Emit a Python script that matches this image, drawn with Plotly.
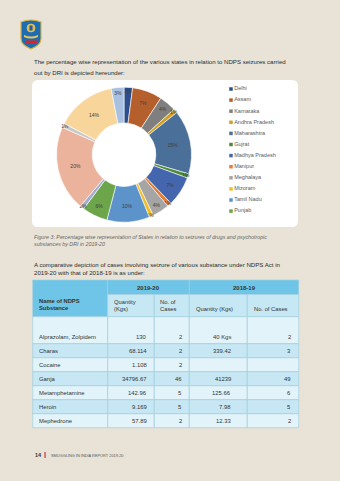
import plotly.graph_objects as go

W, H = 340, 481

# ---------------- data ----------------
states = ["Delhi", "Assam", "Karnataka", "Andhra Pradesh", "Maharashtra", "Gujrat",
          "Madhya Pradesh", "Manipur", "Meghalaya", "Mizoram", "Tamil Nadu", "Punjab",
          "State 13", "State 14", "State 15", "State 16", "State 17"]
state_share = [2, 7, 4, 1, 15, 1, 7, 1, 4, 1, 10, 6, 1, 20, 1, 14, 3]
state_colors = ["#2C4E8E", "#B55F2C", "#7F7F7F", "#CFA024", "#4A6F98", "#4C8A3A",
                "#4466AE", "#E67C36", "#A5A5A5", "#F4BD26", "#5B93CA", "#6DA54A",
                "#A3AECF", "#EBB39C", "#C8C8C8", "#F8D69B", "#A9C1E0"]
legend_n = 12  # legend in the reference lists the first 12 states

substances = ["Alprazolam, Zolpidem", "Charas", "Cocaine", "Ganja",
              "Metamphetamine", "Heroin", "Mephedrone"]
qty_2019_20 = ["130", "68.114", "1.108", "34796.67", "142.96", "9.169", "57.89"]
cases_2019_20 = ["2", "2", "2", "46", "5", "5", "2"]
qty_2018_19 = ["40 Kgs", "339.42", "", "41239", "125.66", "7.98", "12.33"]
cases_2018_19 = ["2", "3", "", "49", "6", "5", "2"]
year_heads = ["2019-20", "2018-19"]

para1 = ["The percentage wise representation of the various states in relation to NDPS seizures carried",
         "out by DRI is depicted hereunder:"]
caption = ["Figure 3: Percentage wise representation of States in relation to seizures of drugs and psychotropic",
           "substances by DRI in 2019-20"]
para2 = ["A comparative depiction of cases involving seizure of various substance under NDPS Act in",
         "2019-20 with that of 2018-19 is as under:"]
footer_page = "14"
footer_text = "SMUGGLING IN INDIA REPORT 2019-20"

FONT = "Liberation Sans, Arial, sans-serif"
TXT = "#333333"

fig = go.Figure()

# ---------------- donut ----------------
cx0, cx1, cy0, cy1 = 56.5, 191.5, 86.7, 222.7
fig.add_trace(go.Pie(
    labels=states, values=state_share, sort=False, direction="clockwise", rotation=0,
    hole=0.47,
    marker=dict(colors=state_colors, line=dict(color="white", width=0.6)),
    texttemplate="%{value}%", textposition="inside", insidetextorientation="horizontal",
    textfont=dict(size=5, color="#404040", family=FONT),
    domain=dict(x=[cx0 / W, cx1 / W], y=[1 - cy1 / H, 1 - cy0 / H]),
    showlegend=False, hoverinfo="label+percent",
))

# ---------------- legend (first 12) ----------------
fig.add_trace(go.Scatter(
    x=[231] * legend_n, y=[89 + 11.1 * i for i in range(legend_n)],
    mode="markers+text", text=states[:legend_n], textposition="middle right",
    marker=dict(symbol="square", size=3.5, color=state_colors[:legend_n]),
    textfont=dict(size=5.5, color="#595959", family=FONT),
    showlegend=False, hoverinfo="skip",
))

shapes = []
ann = []

# white panel
r = 6
px0, px1, py0, py1 = 32, 298, 80, 227
shapes.append(dict(type="path", xref="x", yref="y", layer="below",
                   path=f"M{px0+r},{py0} L{px1-r},{py0} Q{px1},{py0} {px1},{py0+r} L{px1},{py1-r} "
                        f"Q{px1},{py1} {px1-r},{py1} L{px0+r},{py1} Q{px0},{py1} {px0},{py1-r} "
                        f"L{px0},{py0+r} Q{px0},{py0} {px0+r},{py0} Z",
                   fillcolor="white", line=dict(width=0)))

# logo (shield)
shapes.append(dict(type="path", xref="x", yref="y", layer="below",
                   path="M21,22 Q31,18 41,22 L41,39 Q41,45 31,49 Q21,45 21,39 Z",
                   fillcolor="#1E6DB3", line=dict(color="#D8B23C", width=1.2)))
shapes.append(dict(type="circle", xref="x", yref="y", layer="below",
                   x0=27, x1=35, y0=24, y1=32, fillcolor="#E0B840", line=dict(color="#F2D47A", width=0.6)))
shapes.append(dict(type="rect", xref="x", yref="y", layer="below",
                   x0=29.5, x1=32.5, y0=25.5, y1=30.5, fillcolor="#2A5C9A", line=dict(width=0)))
shapes.append(dict(type="path", xref="x", yref="y", layer="below",
                   path="M24,35 Q31,38 38,35 L38,37 Q31,40 24,37 Z",
                   fillcolor="#E8C85A", line=dict(width=0)))
shapes.append(dict(type="rect", xref="x", yref="y", layer="below",
                   x0=25, x1=37, y0=40.5, y1=43.5, fillcolor="#D7262C", line=dict(width=0)))

def line_ann(x, y, text, size, color=TXT, anchor="left", italic=False, bold=False):
    t = text
    if bold:
        t = f"<b>{t}</b>"
    if italic:
        t = f"<i>{t}</i>"
    ann.append(dict(x=x, y=y, xref="x", yref="y", text=t, showarrow=False,
                    xanchor=anchor, yanchor="middle",
                    font=dict(size=size, color=color, family=FONT)))

# paragraphs
for i, t in enumerate(para1):
    line_ann(32, 61.5 + 10.5 * i, t, 6.1, "#2b2b2b")
for i, t in enumerate(caption):
    line_ann(32, 237.3 + 7 * i, t, 5.3, "#666666", italic=True)
for i, t in enumerate(para2):
    line_ann(32, 264.3 + 8.5 * i, t, 6.1, "#2b2b2b")

# ---------------- table ----------------
cols = [32.7, 107.7, 154.3, 189.3, 247.3, 298.7]
y_top, y_h1, y_h2 = 280, 294.5, 316.7
row_edges = [316.7, 343.7, 357.7, 371.7, 385.7, 399.7, 413.7, 427.7]
HEAD = "#6EC5E7"
SUB = "#C6E8F4"
LIGHT = "#E2F3F9"
DARK = "#C6E7F3"
GRID = "#A2CFE0"

def cell(x0, x1, y0, y1, fill):
    shapes.append(dict(type="rect", xref="x", yref="y", layer="below",
                       x0=x0, x1=x1, y0=y0, y1=y1, fillcolor=fill,
                       line=dict(color=GRID, width=0.7)))

cell(cols[0], cols[1], y_top, y_h2, HEAD)
cell(cols[1], cols[3], y_top, y_h1, HEAD)
cell(cols[3], cols[5], y_top, y_h1, HEAD)
for c in range(1, 5):
    cell(cols[c], cols[c + 1], y_h1, y_h2, SUB)
for ri in range(len(substances)):
    fill = LIGHT if ri % 2 == 0 else DARK
    for c in range(5):
        cell(cols[c], cols[c + 1], row_edges[ri], row_edges[ri + 1], fill)

# header texts
line_ann((cols[1] + cols[3]) / 2, 287.5, year_heads[0], 6, TXT, anchor="center", bold=True)
line_ann((cols[3] + cols[5]) / 2, 287.5, year_heads[1], 6, TXT, anchor="center", bold=True)
line_ann(36.7, 301, "Name of NDPS", 5.8, TXT, bold=True)
line_ann(36.7, 307.8, "Substance", 5.8, TXT, bold=True)
line_ann(112.3, 301.7, "Quantity", 5.8, TXT)
line_ann(112.3, 309, "(Kgs)", 5.8, TXT)
line_ann(158.3, 301.7, "No. of", 5.8, TXT)
line_ann(158.3, 309, "Cases", 5.8, TXT)
line_ann(194, 309.3, "Quantity (Kgs)", 5.8, TXT)
line_ann(251.7, 309.3, "No. of Cases", 5.8, TXT)

# body texts
right_x = [149, 184, 233.3, 293.3]
for ri, name in enumerate(substances):
    y0, y1 = row_edges[ri], row_edges[ri + 1]
    yc = (y0 + y1) / 2 if ri > 0 else y1 - 7
    line_ann(36.7, yc, name, 5.9, TXT)
    vals = [qty_2019_20[ri], cases_2019_20[ri], qty_2018_19[ri], cases_2018_19[ri]]
    for xr, v in zip(right_x, vals):
        if v:
            line_ann(xr, yc, v, 5.9, TXT, anchor="right")

# footer
line_ann(33, 455, f"<b>{footer_page}</b>", 5.5, "#333333")
shapes.append(dict(type="rect", xref="x", yref="y", layer="below",
                   x0=44.5, x1=45.6, y0=452, y1=458, fillcolor="#D2232A", line=dict(width=0)))
line_ann(49, 455.3, footer_text, 3.9, "#555555")

fig.update_layout(
    width=W, height=H, margin=dict(l=0, r=0, t=0, b=0),
    paper_bgcolor="#E8E3D6", plot_bgcolor="rgba(0,0,0,0)",
    xaxis=dict(range=[0, W], visible=False, domain=[0, 1], fixedrange=True),
    yaxis=dict(range=[H, 0], visible=False, domain=[0, 1], fixedrange=True),
    shapes=shapes, annotations=ann,
    uniformtext=dict(minsize=5, mode="show"),
    showlegend=False,
)

fig.write_html("out.html")
